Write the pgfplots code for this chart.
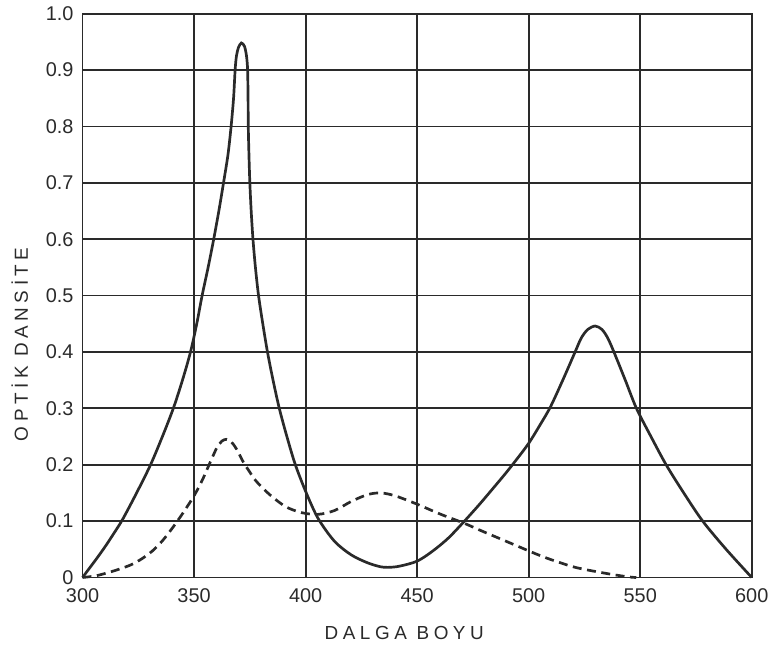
\documentclass[border=0pt]{standalone}
\usepackage{pgfplots}
\pgfplotsset{compat=1.18}
\usepackage{fontspec}
\setmainfont{Liberation Sans}
\newfontfamily\spaced[LetterSpace=24]{Liberation Sans}
\definecolor{ink}{HTML}{2A2A2A}
\begin{document}
\begin{tikzpicture}
\begin{axis}[
  scale only axis,
  width=336.5pt, height=283.5pt,
  xmin=300, xmax=600, ymin=0, ymax=1,
  xtick={300,350,...,600},
  ytick={0,0.1,...,1.0},
  yticklabels={0,0.1,0.2,0.3,0.4,0.5,0.6,0.7,0.8,0.9,1.0},
  grid=major,
  grid style={ink, line width=0.9pt},
  axis line style={ink, line width=0.9pt},
  major tick length=0pt,
  tick label style={font=\fontsize{10}{12}\selectfont, text=ink},
  /pgf/number format/assume math mode=true,
  xticklabel style={yshift=-2pt},
  yticklabel style={xshift=-1pt},
  clip=false,
]
\addplot[ink, line width=1.35pt, smooth, tension=0.5] coordinates {
(300,0) (303,0.016) (306.4,0.034) (310,0.054) (314,0.078) (318.1,0.104) (324.5,0.152) (330.5,0.2) (335.8,0.25) (340.7,0.3) (344.8,0.35) (348.4,0.4) (351.2,0.45) (353.6,0.5) (356.3,0.55) (358.8,0.6) (361.1,0.65) (363.2,0.7) (365.2,0.75) (366.6,0.8) (367.7,0.85) (368.4,0.9) (369,0.925) (369.9,0.94) (371.2,0.948) (372.6,0.942) (373.5,0.925) (374,0.9) (374.2,0.85) (374.3,0.8) (374.6,0.75) (375,0.7) (375.6,0.65) (376.4,0.6) (377.5,0.55) (378.9,0.5) (380.8,0.45) (382.9,0.4) (385.4,0.35) (388.2,0.3) (391.6,0.25) (395.4,0.2) (400.3,0.15) (405.7,0.104) (413,0.064) (420.5,0.04) (427.8,0.026) (433.6,0.019) (437,0.018) (442,0.02) (450,0.029) (457,0.047) (464,0.07) (471.2,0.1) (478,0.13) (484,0.158) (489.5,0.184) (494.7,0.21) (500,0.238) (505,0.27) (509.8,0.303) (515.5,0.352) (520.8,0.4) (523.6,0.425) (526.5,0.44) (529.8,0.446) (532.8,0.44) (535.4,0.425) (538.2,0.4) (543.3,0.35) (548.3,0.3) (554.8,0.25) (561.6,0.2) (569.5,0.15) (578,0.1) (588.5,0.05) (600,0)
};
\addplot[ink, line width=1.35pt, smooth, tension=0.5, dash pattern=on 4.5pt off 2.8pt] coordinates {
(300,0) (306,0.003) (312.6,0.01) (317.3,0.016) (322,0.023) (326.5,0.033) (331.3,0.047) (336,0.066) (340.7,0.09) (345.3,0.116) (350,0.145) (353.6,0.172) (357.3,0.205) (360.2,0.23) (362.5,0.242) (364.6,0.245) (366.8,0.24) (369,0.228) (371.9,0.206) (374.8,0.188) (377.8,0.171) (383.6,0.148) (390.9,0.126) (398.2,0.115) (405.7,0.112) (413.1,0.119) (420.5,0.135) (427.8,0.147) (433.6,0.15) (440,0.145) (450,0.13) (460,0.113) (471.2,0.096) (478.1,0.084) (493,0.059) (504.4,0.04) (512,0.029) (521.9,0.017) (536.5,0.006) (545,0.001) (548.2,0)
};
\node[rotate=90, text=ink, font=\spaced\fontsize{9.5}{11}\selectfont] at ([shift={(-31.5pt,-24.5pt)}]axis cs:300,0.5) {OPTİK DANSİTE};
\node[text=ink, font=\spaced\fontsize{9.5}{11}\selectfont] at ([shift={(-6.5pt,-28pt)}]axis cs:450,0) {DALGA BOYU};
\end{axis}
\path[use as bounding box] (-41.5pt,-36pt) rectangle (346pt,288.5pt);
\end{tikzpicture}
\end{document}
